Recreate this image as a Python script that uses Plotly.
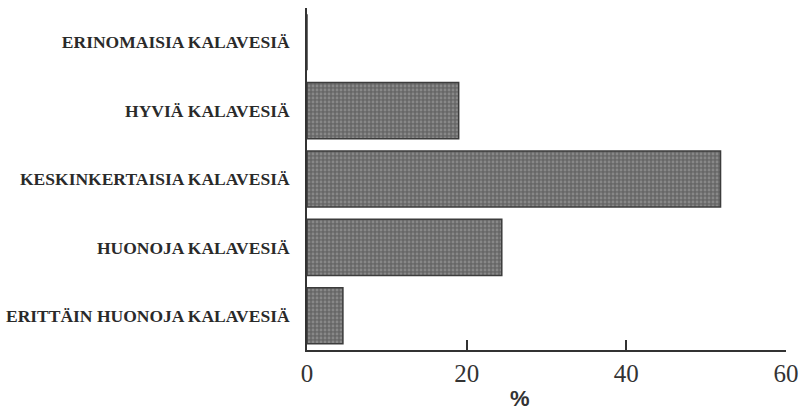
import plotly.graph_objects as go

# Fishing-water quality ratings, share of answers (%)
categories = [
    "ERINOMAISIA KALAVESIÄ",
    "HYVIÄ KALAVESIÄ",
    "KESKINKERTAISIA KALAVESIÄ",
    "HUONOJA KALAVESIÄ",
    "ERITTÄIN HUONOJA KALAVESIÄ",
]
shares = [0, 19.0, 51.8, 24.4, 4.5]
x_ticks = [0, 20, 40, 60]

MARGIN_L, MARGIN_R, MARGIN_T, MARGIN_B = 307, 13, 8, 61
W, H = 799, 411

fig = go.Figure(
    go.Bar(
        y=categories,
        x=shares,
        orientation="h",
        width=0.82,
        marker=dict(
            color="#676767",
            line=dict(color="#3c3c3c", width=1.5),
            pattern=dict(shape=".", fgcolor="#a9a9a9", size=4, solidity=0.4),
        ),
        showlegend=False,
    )
)

# "%" axis title placed as an annotation (pixel position -> paper coords)
plot_w = W - MARGIN_L - MARGIN_R
plot_h = H - MARGIN_T - MARGIN_B
pct_x = (520 - MARGIN_L) / plot_w
pct_y = -(398 - (H - MARGIN_B)) / plot_h

fig.update_layout(
    width=W,
    height=H,
    margin=dict(l=MARGIN_L, r=MARGIN_R, t=MARGIN_T, b=MARGIN_B, autoexpand=False),
    paper_bgcolor="white",
    plot_bgcolor="white",
    font=dict(family="Liberation Serif", color="#2a2a2a"),
    annotations=[
        dict(
            text="<b>%</b>",
            x=pct_x, y=pct_y,
            xref="paper", yref="paper",
            xanchor="center", yanchor="middle",
            showarrow=False,
            font=dict(family="Liberation Sans", size=22, color="#333"),
        )
    ],
)

fig.update_xaxes(
    range=[0, 60],
    tickvals=x_ticks,
    ticktext=[str(v) for v in x_ticks],
    ticks="inside",
    ticklen=10,
    tickcolor="#333",
    tickwidth=1.5,
    tickfont=dict(family="Liberation Serif", size=25, color="#333"),
    showline=True,
    linecolor="#333",
    linewidth=1.8,
    showgrid=False,
    zeroline=False,
    automargin=False,
)

fig.update_yaxes(
    categoryorder="array",
    categoryarray=categories[::-1],
    range=[-0.5, 4.5],
    showline=True,
    linecolor="#333",
    linewidth=1.8,
    showgrid=False,
    ticks="",
    ticklabelstandoff=12,
    automargin=False,
    tickfont=dict(family="Liberation Serif", size=17.5, color="#2a2a2a", weight="bold"),
)

fig.write_html("out.html")
